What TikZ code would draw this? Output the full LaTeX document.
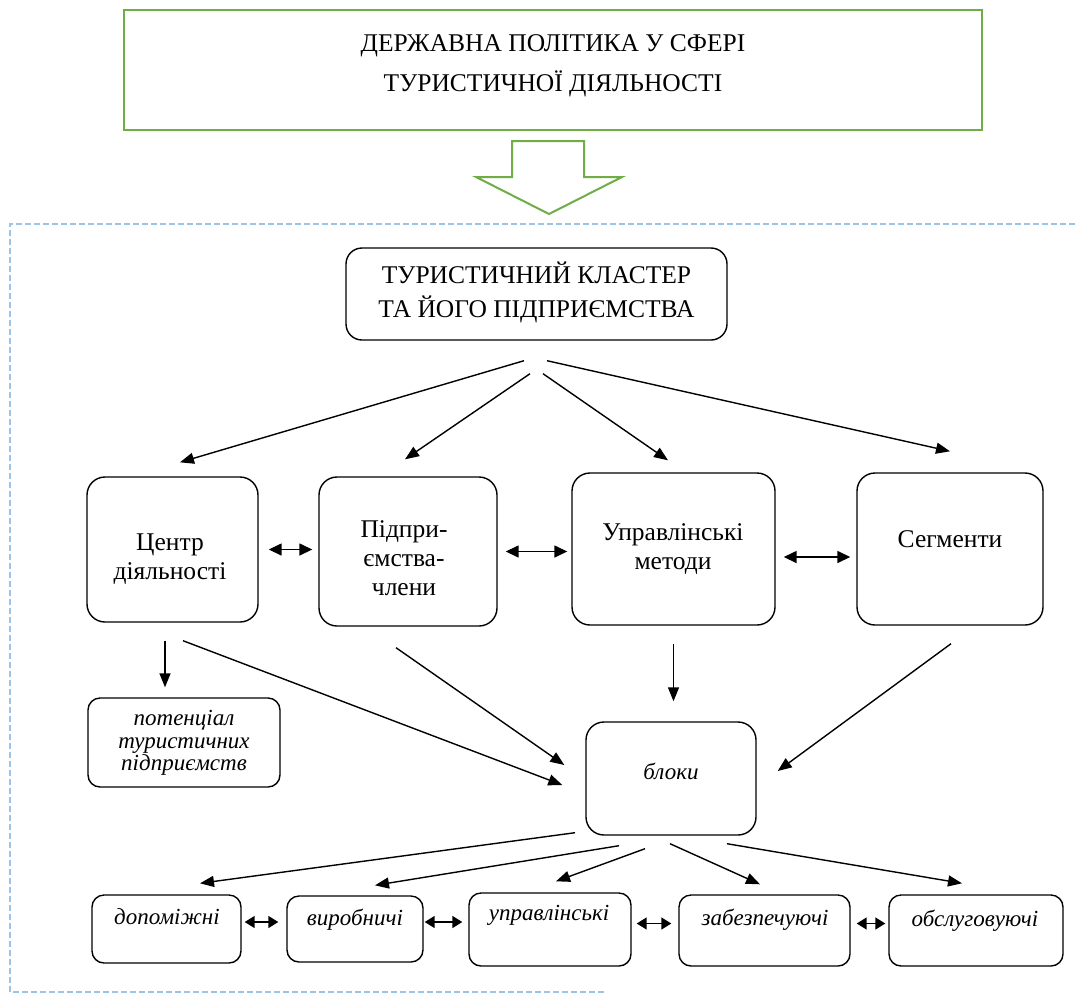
\documentclass[tikz,border=0pt]{standalone}
\usepackage{fontspec}
\setmainfont{Liberation Serif}
\usetikzlibrary{arrows.meta,calc}
\definecolor{grn}{RGB}{112,173,71}
\definecolor{dblue}{RGB}{157,195,230}
\begin{document}
\begin{tikzpicture}[x=1pt,y=-1pt,
  rbox/.style={draw, line width=1.4pt, rounded corners=18pt, inner sep=0pt},
  sbox/.style={draw, line width=1.4pt, rounded corners=12pt, inner sep=0pt},
  arr/.style={-{Triangle[length=14pt,width=11pt]}, line width=1.4pt},
  darr/.style={{Triangle[length=13pt,width=12pt]}-{Triangle[length=13pt,width=12pt]}, line width=1.5pt},
  sdarr/.style={{Triangle[length=10pt,width=12pt]}-{Triangle[length=10pt,width=12pt]}, line width=1.5pt},
  txt/.style={font=\fontsize{25.5}{29}\selectfont, align=center, inner sep=0pt},
  itxt/.style={font=\fontsize{23}{22.5}\selectfont\itshape, align=center, inner sep=0pt},
  bigtxt/.style={font=\fontsize{25.5}{40}\selectfont, align=center, inner sep=0pt},
  cltxt/.style={font=\fontsize{25.5}{34}\selectfont, align=center, inner sep=0pt}]
\useasboundingbox (0,0) rectangle (1075,996);
% top box
\node[draw=grn, line width=2pt, minimum width=858pt, minimum height=120pt] (top) at (553,70) {};
\node[bigtxt] (toptxt) at (553,66) {ДЕРЖАВНА ПОЛІТИКА У СФЕРІ\\ТУРИСТИЧНОЇ ДІЯЛЬНОСТІ};
% green block arrow
\draw[grn, line width=2pt, fill=white] (512,141) -- (584,141) -- (584,177) -- (622,177) -- (549,214) -- (476,177) -- (512,177) -- cycle;
% dashed frame
\draw[dblue, dashed, line width=1.2pt, dash pattern=on 6pt off 3pt] (1075,224) -- (10,224) -- (10,992) -- (605,992);
% cluster
\node[rbox, rounded corners=16pt, minimum width=381pt, minimum height=92pt] (cl) at (536.5,294) {};
\node[cltxt] (cltext) at (536.5,292) {ТУРИСТИЧНИЙ КЛАСТЕР\\ТА ЙОГО ПІДПРИЄМСТВА};
% row
\node[rbox, minimum width=171pt, minimum height=145pt] (centr) at (172.5,549.5) {};
\node[txt] (centrt) at (170,559) {Центр\\діяльності};
\node[rbox, minimum width=178pt, minimum height=149pt] (pidpr) at (408,551.5) {};
\node[txt] (pidprt) at (404,558) {Підпри-\\ємства-\\члени};
\node[rbox, minimum width=203pt, minimum height=152pt] (upr) at (673.5,549) {};
\node[txt] (uprt) at (673,549) {Управлінські\\методи};
\node[rbox, minimum width=186pt, minimum height=152pt] (segm) at (950,549) {};
\node[txt] (segmt) at (950,539) {Сегменти};
% lower
\node[sbox, minimum width=192pt, minimum height=89pt] (pot) at (184,742.5) {};
\node[itxt] (pott) at (184,743) {потенціал\\туристичних\\підприємств};
\node[rbox, minimum width=170pt, minimum height=113pt] (bl) at (671,778.5) {};
\node[itxt] (blt) at (671,771) {блоки};
% bottom row
\node[sbox, minimum width=149pt, minimum height=68pt] (dop) at (166.5,929) {};
\node[itxt] (dopt) at (167,917) {допоміжні};
\node[sbox, minimum width=136pt, minimum height=66pt] (vyr) at (355,929) {};
\node[itxt] (vyrt) at (355,920) {виробничі};
\node[sbox, minimum width=162pt, minimum height=73pt] (uprb) at (550,929.5) {};
\node[itxt] (uprbt) at (549,915) {управлінські};
\node[sbox, minimum width=171pt, minimum height=71pt] (zab) at (764.5,930.5) {};
\node[itxt] (zabt) at (765,920) {забезпечуючі};
\node[sbox, minimum width=174pt, minimum height=71pt] (obs) at (976,930.5) {};
\node[itxt] (obst) at (975,921) {обслуговуючі};
% arrows from cluster
\draw[arr] ($(cl.south)+(-12.5,20)$) -- ($(centr.north)+(7.5,-14)$);
\draw[arr] ($(cl.south)+(-6.5,33)$) -- ($(pidpr.north)+(-3,-17)$);
\draw[arr] ($(cl.south)+(6.5,33)$) -- ($(upr.north)+(-5.5,-12)$);
\draw[arr] ($(cl.south)+(10.5,20)$) -- ($(segm.north)+(0,-21)$);
% row double arrows
\coordinate (d1) at ($(centr.east)+(10,0)$);
\draw[darr, shorten >=6pt] (d1) -- (d1 -| pidpr.west);
\coordinate (d2) at ($(pidpr.east)+(8,0)$);
\draw[darr, shorten >=4pt] (d2) -- (d2 -| upr.west);
\coordinate (d3) at ($(upr.east)+(8,8)$);
\draw[darr, shorten >=6pt] (d3) -- (d3 -| segm.west);
% lower arrows
\draw[arr] ($(centr.south)+(-7.5,18)$) -- ($(pot.north)+(-19,-10)$);
\draw[arr] ($(centr.south)+(10.5,18)$) -- ($(bl.west)+(-23,6.5)$);
\draw[arr] ($(pidpr.south)+(-12,21)$) -- ($(bl.west)+(-21,-13.5)$);
\draw[arr] ($(upr.south)+(0,18)$) -- ($(bl.north)+(2.5,-20)$);
\draw[arr] ($(segm.south)+(1,18)$) -- ($(bl.east)+(21,-7.5)$);
% from blocks
\draw[arr] ($(bl.south)+(-96,-3)$) -- ($(dop.north)+(33.5,-11)$);
\draw[arr] ($(bl.south)+(-52,10)$) -- ($(vyr.north)+(20,-10)$);
\draw[arr] ($(bl.south)+(-26,13)$) -- ($(uprb.north)+(6,-11)$);
\draw[arr] ($(bl.south)+(-1,8)$) -- ($(zab.north)+(-4.5,-10)$);
\draw[arr] ($(bl.south)+(56,8)$) -- ($(obs.north)+(-14,-11)$);
% bottom double arrows
\coordinate (b1) at ($(dop.east)+(3,-7)$);
\draw[sdarr, shorten >=8pt] (b1) -- (b1 -| vyr.west);
\coordinate (b2) at ($(vyr.east)+(1,-7)$);
\draw[sdarr, shorten >=6pt] (b2) -- (b2 -| uprb.west);
\coordinate (b3) at ($(uprb.east)+(5,-6)$);
\draw[sdarr, shorten >=7pt] (b3) -- (b3 -| zab.west);
\coordinate (b4) at ($(zab.east)+(6,-7)$);
\draw[sdarr, shorten >=3pt] (b4) -- (b4 -| obs.west);
\end{tikzpicture}
\end{document}
